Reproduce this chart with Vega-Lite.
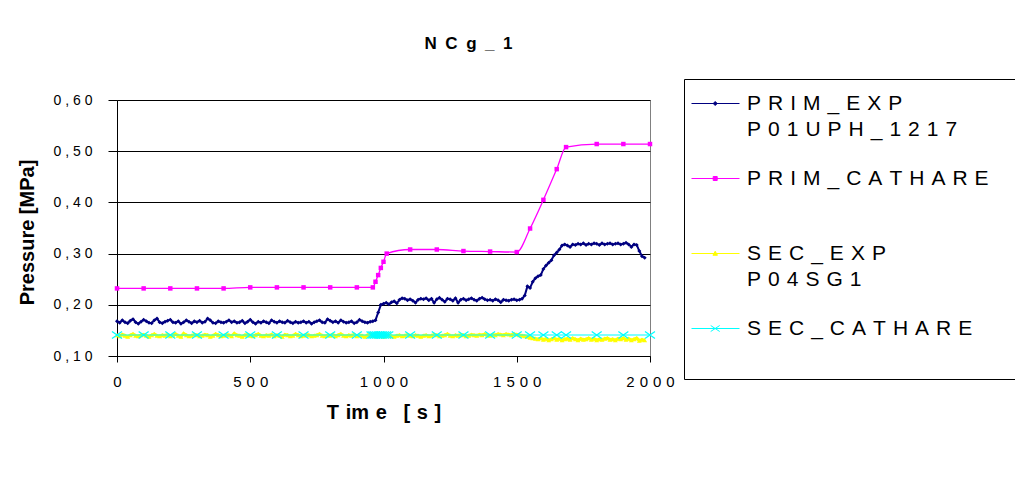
{
"$schema": "https://vega.github.io/schema/vega-lite/v6.json",
"width": 533, "height": 256,
"autosize": {"type": "none"},
"padding": {"left": 117, "top": 100, "right": 365, "bottom": 123},
"background": "white",
"title": {"text": "N\u2002C\u2002g\u2002_\u20021", "font": "Liberation Sans", "fontSize": 17, "fontWeight": "bold", "color": "black", "anchor": "middle", "dx": 85, "baseline": "alphabetic", "offset": 13},
"config": {"view": {"stroke": "#808080", "strokeWidth": 1}, "font": "Liberation Sans"},
"datasets": {
"exp": [
{"t":0,"PRIM_EXP":0.168,"SEC_EXP":0.141},{"t":10,"PRIM_EXP":0.165,"SEC_EXP":0.139},{"t":20,"PRIM_EXP":0.170,"SEC_EXP":0.142},{"t":30,"PRIM_EXP":0.166,"SEC_EXP":0.140},{"t":40,"PRIM_EXP":0.164,"SEC_EXP":0.138},{"t":50,"PRIM_EXP":0.169,"SEC_EXP":0.141},{"t":60,"PRIM_EXP":0.172,"SEC_EXP":0.143},{"t":70,"PRIM_EXP":0.166,"SEC_EXP":0.140},{"t":80,"PRIM_EXP":0.163,"SEC_EXP":0.139},{"t":90,"PRIM_EXP":0.167,"SEC_EXP":0.141},
{"t":100,"PRIM_EXP":0.171,"SEC_EXP":0.142},{"t":110,"PRIM_EXP":0.168,"SEC_EXP":0.140},{"t":120,"PRIM_EXP":0.165,"SEC_EXP":0.138},{"t":130,"PRIM_EXP":0.164,"SEC_EXP":0.141},{"t":140,"PRIM_EXP":0.170,"SEC_EXP":0.143},{"t":150,"PRIM_EXP":0.173,"SEC_EXP":0.140},{"t":160,"PRIM_EXP":0.166,"SEC_EXP":0.139},{"t":170,"PRIM_EXP":0.164,"SEC_EXP":0.141},{"t":180,"PRIM_EXP":0.167,"SEC_EXP":0.140},{"t":190,"PRIM_EXP":0.169,"SEC_EXP":0.142},
{"t":200,"PRIM_EXP":0.171,"SEC_EXP":0.139},{"t":210,"PRIM_EXP":0.166,"SEC_EXP":0.141},{"t":220,"PRIM_EXP":0.165,"SEC_EXP":0.143},{"t":230,"PRIM_EXP":0.168,"SEC_EXP":0.140},{"t":240,"PRIM_EXP":0.163,"SEC_EXP":0.138},{"t":250,"PRIM_EXP":0.166,"SEC_EXP":0.144},{"t":260,"PRIM_EXP":0.170,"SEC_EXP":0.141},{"t":270,"PRIM_EXP":0.167,"SEC_EXP":0.139},{"t":280,"PRIM_EXP":0.164,"SEC_EXP":0.140},{"t":290,"PRIM_EXP":0.168,"SEC_EXP":0.142},
{"t":300,"PRIM_EXP":0.166,"SEC_EXP":0.141},{"t":310,"PRIM_EXP":0.169,"SEC_EXP":0.139},{"t":320,"PRIM_EXP":0.165,"SEC_EXP":0.140},{"t":330,"PRIM_EXP":0.167,"SEC_EXP":0.142},{"t":340,"PRIM_EXP":0.173,"SEC_EXP":0.141},{"t":350,"PRIM_EXP":0.170,"SEC_EXP":0.138},{"t":360,"PRIM_EXP":0.165,"SEC_EXP":0.140},{"t":370,"PRIM_EXP":0.164,"SEC_EXP":0.143},{"t":380,"PRIM_EXP":0.168,"SEC_EXP":0.141},{"t":390,"PRIM_EXP":0.166,"SEC_EXP":0.139},
{"t":400,"PRIM_EXP":0.165,"SEC_EXP":0.140},{"t":410,"PRIM_EXP":0.167,"SEC_EXP":0.142},{"t":420,"PRIM_EXP":0.170,"SEC_EXP":0.141},{"t":430,"PRIM_EXP":0.166,"SEC_EXP":0.139},{"t":440,"PRIM_EXP":0.168,"SEC_EXP":0.144},{"t":450,"PRIM_EXP":0.165,"SEC_EXP":0.141},{"t":460,"PRIM_EXP":0.166,"SEC_EXP":0.140},{"t":470,"PRIM_EXP":0.169,"SEC_EXP":0.138},{"t":480,"PRIM_EXP":0.164,"SEC_EXP":0.141},{"t":490,"PRIM_EXP":0.167,"SEC_EXP":0.142},
{"t":500,"PRIM_EXP":0.171,"SEC_EXP":0.140},{"t":510,"PRIM_EXP":0.166,"SEC_EXP":0.139},{"t":520,"PRIM_EXP":0.163,"SEC_EXP":0.141},{"t":530,"PRIM_EXP":0.167,"SEC_EXP":0.143},{"t":540,"PRIM_EXP":0.165,"SEC_EXP":0.140},{"t":550,"PRIM_EXP":0.168,"SEC_EXP":0.139},{"t":560,"PRIM_EXP":0.166,"SEC_EXP":0.141},{"t":570,"PRIM_EXP":0.164,"SEC_EXP":0.140},{"t":580,"PRIM_EXP":0.170,"SEC_EXP":0.142},{"t":590,"PRIM_EXP":0.167,"SEC_EXP":0.139},
{"t":600,"PRIM_EXP":0.165,"SEC_EXP":0.141},{"t":610,"PRIM_EXP":0.168,"SEC_EXP":0.140},{"t":620,"PRIM_EXP":0.166,"SEC_EXP":0.138},{"t":630,"PRIM_EXP":0.165,"SEC_EXP":0.142},{"t":640,"PRIM_EXP":0.169,"SEC_EXP":0.141},{"t":650,"PRIM_EXP":0.166,"SEC_EXP":0.139},{"t":660,"PRIM_EXP":0.164,"SEC_EXP":0.140},{"t":670,"PRIM_EXP":0.167,"SEC_EXP":0.143},{"t":680,"PRIM_EXP":0.165,"SEC_EXP":0.141},{"t":690,"PRIM_EXP":0.166,"SEC_EXP":0.139},
{"t":700,"PRIM_EXP":0.168,"SEC_EXP":0.140},{"t":710,"PRIM_EXP":0.165,"SEC_EXP":0.142},{"t":720,"PRIM_EXP":0.167,"SEC_EXP":0.141},{"t":730,"PRIM_EXP":0.163,"SEC_EXP":0.139},{"t":740,"PRIM_EXP":0.166,"SEC_EXP":0.140},{"t":750,"PRIM_EXP":0.168,"SEC_EXP":0.141},{"t":760,"PRIM_EXP":0.170,"SEC_EXP":0.143},{"t":770,"PRIM_EXP":0.166,"SEC_EXP":0.140},{"t":780,"PRIM_EXP":0.165,"SEC_EXP":0.139},{"t":790,"PRIM_EXP":0.172,"SEC_EXP":0.141},
{"t":800,"PRIM_EXP":0.169,"SEC_EXP":0.140},{"t":810,"PRIM_EXP":0.166,"SEC_EXP":0.142},{"t":820,"PRIM_EXP":0.168,"SEC_EXP":0.139},{"t":830,"PRIM_EXP":0.165,"SEC_EXP":0.141},{"t":840,"PRIM_EXP":0.170,"SEC_EXP":0.143},{"t":850,"PRIM_EXP":0.167,"SEC_EXP":0.140},{"t":860,"PRIM_EXP":0.165,"SEC_EXP":0.139},{"t":870,"PRIM_EXP":0.166,"SEC_EXP":0.141},{"t":880,"PRIM_EXP":0.168,"SEC_EXP":0.140},{"t":890,"PRIM_EXP":0.164,"SEC_EXP":0.142},
{"t":900,"PRIM_EXP":0.166,"SEC_EXP":0.139},{"t":910,"PRIM_EXP":0.171,"SEC_EXP":0.141},{"t":920,"PRIM_EXP":0.168,"SEC_EXP":0.140},{"t":930,"PRIM_EXP":0.166,"SEC_EXP":0.138},{"t":940,"PRIM_EXP":0.165,"SEC_EXP":0.141},{"t":950,"PRIM_EXP":0.167,"SEC_EXP":0.142},{"t":960,"PRIM_EXP":0.168,"SEC_EXP":0.140},{"t":970,"PRIM_EXP":0.170,"SEC_EXP":0.139},{"t":980,"PRIM_EXP":0.185,"SEC_EXP":0.141},{"t":990,"PRIM_EXP":0.200,"SEC_EXP":0.140},
{"t":1000,"PRIM_EXP":0.202,"SEC_EXP":0.138},{"t":1010,"PRIM_EXP":0.204,"SEC_EXP":0.140},{"t":1020,"PRIM_EXP":0.201,"SEC_EXP":0.141},{"t":1030,"PRIM_EXP":0.205,"SEC_EXP":0.139},{"t":1040,"PRIM_EXP":0.207,"SEC_EXP":0.138},{"t":1050,"PRIM_EXP":0.203,"SEC_EXP":0.140},{"t":1060,"PRIM_EXP":0.210,"SEC_EXP":0.141},{"t":1070,"PRIM_EXP":0.213,"SEC_EXP":0.139},{"t":1080,"PRIM_EXP":0.212,"SEC_EXP":0.140},{"t":1090,"PRIM_EXP":0.209,"SEC_EXP":0.142},
{"t":1100,"PRIM_EXP":0.211,"SEC_EXP":0.140},{"t":1110,"PRIM_EXP":0.208,"SEC_EXP":0.139},{"t":1120,"PRIM_EXP":0.204,"SEC_EXP":0.141},{"t":1130,"PRIM_EXP":0.210,"SEC_EXP":0.140},{"t":1140,"PRIM_EXP":0.212,"SEC_EXP":0.138},{"t":1150,"PRIM_EXP":0.211,"SEC_EXP":0.140},{"t":1160,"PRIM_EXP":0.213,"SEC_EXP":0.141},{"t":1170,"PRIM_EXP":0.209,"SEC_EXP":0.139},{"t":1180,"PRIM_EXP":0.212,"SEC_EXP":0.140},{"t":1190,"PRIM_EXP":0.204,"SEC_EXP":0.142},
{"t":1200,"PRIM_EXP":0.211,"SEC_EXP":0.141},{"t":1210,"PRIM_EXP":0.214,"SEC_EXP":0.139},{"t":1220,"PRIM_EXP":0.210,"SEC_EXP":0.140},{"t":1230,"PRIM_EXP":0.206,"SEC_EXP":0.141},{"t":1240,"PRIM_EXP":0.212,"SEC_EXP":0.143},{"t":1250,"PRIM_EXP":0.211,"SEC_EXP":0.140},{"t":1260,"PRIM_EXP":0.208,"SEC_EXP":0.139},{"t":1270,"PRIM_EXP":0.213,"SEC_EXP":0.141},{"t":1280,"PRIM_EXP":0.204,"SEC_EXP":0.140},{"t":1290,"PRIM_EXP":0.210,"SEC_EXP":0.142},
{"t":1300,"PRIM_EXP":0.212,"SEC_EXP":0.141},{"t":1310,"PRIM_EXP":0.209,"SEC_EXP":0.139},{"t":1320,"PRIM_EXP":0.211,"SEC_EXP":0.140},{"t":1330,"PRIM_EXP":0.213,"SEC_EXP":0.142},{"t":1340,"PRIM_EXP":0.210,"SEC_EXP":0.141},{"t":1350,"PRIM_EXP":0.208,"SEC_EXP":0.140},{"t":1360,"PRIM_EXP":0.212,"SEC_EXP":0.142},{"t":1370,"PRIM_EXP":0.214,"SEC_EXP":0.141},{"t":1380,"PRIM_EXP":0.211,"SEC_EXP":0.143},{"t":1390,"PRIM_EXP":0.209,"SEC_EXP":0.141},
{"t":1400,"PRIM_EXP":0.210,"SEC_EXP":0.140},{"t":1410,"PRIM_EXP":0.208,"SEC_EXP":0.142},{"t":1420,"PRIM_EXP":0.211,"SEC_EXP":0.141},{"t":1430,"PRIM_EXP":0.209,"SEC_EXP":0.143},{"t":1440,"PRIM_EXP":0.205,"SEC_EXP":0.142},{"t":1450,"PRIM_EXP":0.210,"SEC_EXP":0.141},{"t":1460,"PRIM_EXP":0.209,"SEC_EXP":0.143},{"t":1470,"PRIM_EXP":0.208,"SEC_EXP":0.142},{"t":1480,"PRIM_EXP":0.210,"SEC_EXP":0.141},{"t":1490,"PRIM_EXP":0.211,"SEC_EXP":0.143},
{"t":1500,"PRIM_EXP":0.209,"SEC_EXP":0.142},{"t":1510,"PRIM_EXP":0.210,"SEC_EXP":0.141},{"t":1520,"PRIM_EXP":0.212,"SEC_EXP":0.140},{"t":1530,"PRIM_EXP":0.218,"SEC_EXP":0.139},{"t":1540,"PRIM_EXP":0.236,"SEC_EXP":0.138},{"t":1550,"PRIM_EXP":0.233,"SEC_EXP":0.136},{"t":1560,"PRIM_EXP":0.245,"SEC_EXP":0.135},{"t":1570,"PRIM_EXP":0.252,"SEC_EXP":0.134},{"t":1580,"PRIM_EXP":0.256,"SEC_EXP":0.133},{"t":1590,"PRIM_EXP":0.258,"SEC_EXP":0.135},
{"t":1600,"PRIM_EXP":0.270,"SEC_EXP":0.132},{"t":1610,"PRIM_EXP":0.277,"SEC_EXP":0.134},{"t":1620,"PRIM_EXP":0.282,"SEC_EXP":0.131},{"t":1630,"PRIM_EXP":0.287,"SEC_EXP":0.133},{"t":1640,"PRIM_EXP":0.297,"SEC_EXP":0.135},{"t":1650,"PRIM_EXP":0.302,"SEC_EXP":0.132},{"t":1660,"PRIM_EXP":0.308,"SEC_EXP":0.134},{"t":1670,"PRIM_EXP":0.316,"SEC_EXP":0.131},{"t":1680,"PRIM_EXP":0.318,"SEC_EXP":0.133},{"t":1690,"PRIM_EXP":0.316,"SEC_EXP":0.134},
{"t":1700,"PRIM_EXP":0.313,"SEC_EXP":0.132},{"t":1710,"PRIM_EXP":0.318,"SEC_EXP":0.135},{"t":1720,"PRIM_EXP":0.317,"SEC_EXP":0.133},{"t":1730,"PRIM_EXP":0.319,"SEC_EXP":0.131},{"t":1740,"PRIM_EXP":0.318,"SEC_EXP":0.134},{"t":1750,"PRIM_EXP":0.320,"SEC_EXP":0.132},{"t":1760,"PRIM_EXP":0.317,"SEC_EXP":0.133},{"t":1770,"PRIM_EXP":0.319,"SEC_EXP":0.135},{"t":1780,"PRIM_EXP":0.318,"SEC_EXP":0.132},{"t":1790,"PRIM_EXP":0.320,"SEC_EXP":0.134},
{"t":1800,"PRIM_EXP":0.319,"SEC_EXP":0.131},{"t":1810,"PRIM_EXP":0.317,"SEC_EXP":0.133},{"t":1820,"PRIM_EXP":0.320,"SEC_EXP":0.132},{"t":1830,"PRIM_EXP":0.318,"SEC_EXP":0.134},{"t":1840,"PRIM_EXP":0.319,"SEC_EXP":0.135},{"t":1850,"PRIM_EXP":0.320,"SEC_EXP":0.132},{"t":1860,"PRIM_EXP":0.318,"SEC_EXP":0.133},{"t":1870,"PRIM_EXP":0.319,"SEC_EXP":0.131},{"t":1880,"PRIM_EXP":0.320,"SEC_EXP":0.134},{"t":1890,"PRIM_EXP":0.318,"SEC_EXP":0.133},
{"t":1900,"PRIM_EXP":0.319,"SEC_EXP":0.135},{"t":1910,"PRIM_EXP":0.321,"SEC_EXP":0.132},{"t":1920,"PRIM_EXP":0.318,"SEC_EXP":0.134},{"t":1930,"PRIM_EXP":0.313,"SEC_EXP":0.131},{"t":1940,"PRIM_EXP":0.318,"SEC_EXP":0.133},{"t":1950,"PRIM_EXP":0.317,"SEC_EXP":0.135},{"t":1960,"PRIM_EXP":0.305,"SEC_EXP":0.130},{"t":1970,"PRIM_EXP":0.295,"SEC_EXP":0.132},{"t":1980,"PRIM_EXP":0.292,"SEC_EXP":0.131}
],
"cat": [
{"t":0,"series":"PRIM_CATHARE","v":0.232},{"t":100,"series":"PRIM_CATHARE","v":0.232},{"t":200,"series":"PRIM_CATHARE","v":0.232},{"t":300,"series":"PRIM_CATHARE","v":0.232},{"t":400,"series":"PRIM_CATHARE","v":0.232},{"t":500,"series":"PRIM_CATHARE","v":0.234},{"t":600,"series":"PRIM_CATHARE","v":0.234},{"t":700,"series":"PRIM_CATHARE","v":0.234},{"t":800,"series":"PRIM_CATHARE","v":0.234},{"t":900,"series":"PRIM_CATHARE","v":0.234},{"t":960,"series":"PRIM_CATHARE","v":0.234},{"t":970,"series":"PRIM_CATHARE","v":0.245},{"t":980,"series":"PRIM_CATHARE","v":0.258},{"t":990,"series":"PRIM_CATHARE","v":0.272},{"t":1000,"series":"PRIM_CATHARE","v":0.284},{"t":1012,"series":"PRIM_CATHARE","v":0.300},{"t":1100,"series":"PRIM_CATHARE","v":0.308},{"t":1200,"series":"PRIM_CATHARE","v":0.308},{"t":1300,"series":"PRIM_CATHARE","v":0.305},{"t":1400,"series":"PRIM_CATHARE","v":0.304},{"t":1500,"series":"PRIM_CATHARE","v":0.303},{"t":1550,"series":"PRIM_CATHARE","v":0.349},{"t":1600,"series":"PRIM_CATHARE","v":0.405},{"t":1650,"series":"PRIM_CATHARE","v":0.465},{"t":1685,"series":"PRIM_CATHARE","v":0.508},{"t":1800,"series":"PRIM_CATHARE","v":0.514},{"t":1900,"series":"PRIM_CATHARE","v":0.514},{"t":2000,"series":"PRIM_CATHARE","v":0.514},
{"t":0,"series":"SEC_CATHARE","v":0.141},{"t":100,"series":"SEC_CATHARE","v":0.141},{"t":200,"series":"SEC_CATHARE","v":0.141},{"t":300,"series":"SEC_CATHARE","v":0.141},{"t":400,"series":"SEC_CATHARE","v":0.141},{"t":500,"series":"SEC_CATHARE","v":0.141},{"t":600,"series":"SEC_CATHARE","v":0.141},{"t":700,"series":"SEC_CATHARE","v":0.141},{"t":800,"series":"SEC_CATHARE","v":0.141},{"t":900,"series":"SEC_CATHARE","v":0.141},{"t":955,"series":"SEC_CATHARE","v":0.141},{"t":962,"series":"SEC_CATHARE","v":0.141},{"t":968,"series":"SEC_CATHARE","v":0.141},{"t":975,"series":"SEC_CATHARE","v":0.141},{"t":982,"series":"SEC_CATHARE","v":0.141},{"t":989,"series":"SEC_CATHARE","v":0.141},{"t":995,"series":"SEC_CATHARE","v":0.141},{"t":1002,"series":"SEC_CATHARE","v":0.141},{"t":1010,"series":"SEC_CATHARE","v":0.141},{"t":1018,"series":"SEC_CATHARE","v":0.141},{"t":1100,"series":"SEC_CATHARE","v":0.141},{"t":1200,"series":"SEC_CATHARE","v":0.141},{"t":1300,"series":"SEC_CATHARE","v":0.141},{"t":1400,"series":"SEC_CATHARE","v":0.141},{"t":1500,"series":"SEC_CATHARE","v":0.141},{"t":1550,"series":"SEC_CATHARE","v":0.141},{"t":1600,"series":"SEC_CATHARE","v":0.141},{"t":1650,"series":"SEC_CATHARE","v":0.141},{"t":1685,"series":"SEC_CATHARE","v":0.141},{"t":1800,"series":"SEC_CATHARE","v":0.141},{"t":1900,"series":"SEC_CATHARE","v":0.141},{"t":2000,"series":"SEC_CATHARE","v":0.141}
]
},
"encoding": {
"x": {"field": "t", "type": "quantitative", "scale": {"domain": [0, 2000], "nice": false},
 "axis": {"title": "T\u2004im\u2004e\u2002\u2004[\u2004s\u2004]", "values": [0, 500, 1000, 1500, 2000], "grid": false,
  "labelExpr": "join(split(format(datum.value,'d'),''),'\u2004')", "labelFont": "Liberation Sans", "labelFontSize": 15, "labelColor": "black", "labelFlush": false, "labelOverlap": false,
  "tickColor": "black", "tickSize": 6, "labelPadding": 12, "domainColor": "black",
  "titleFont": "Liberation Sans", "titleFontSize": 20, "titleFontWeight": "bold", "titleColor": "black", "titlePadding": 13}},
"y": {"field": "v", "type": "quantitative", "scale": {"domain": [0.1, 0.6], "nice": false, "zero": false},
 "axis": {"title": "Pressure [MPa]", "values": [0.1, 0.2, 0.3, 0.4, 0.5, 0.6], "grid": true, "gridColor": "black", "gridWidth": 1, "gridOpacity": 1,
  "labelExpr": "replace(join(split(format(datum.value,'.2f'),''),' '),'.',',')", "labelFont": "Liberation Sans", "labelFontSize": 14, "labelColor": "black",
  "tickColor": "black", "tickSize": 9, "labelPadding": 16, "domainColor": "black",
  "titleFont": "Liberation Sans", "titleFontSize": 20, "titleFontWeight": "bold", "titleColor": "black", "titlePadding": 16, "titleY": 132}},
"color": {"field": "series", "type": "nominal",
 "scale": {"domain": ["PRIM_EXP", "PRIM_CATHARE", "SEC_EXP", "SEC_CATHARE"], "range": ["#000080", "#FF00FF", "#FFFF00", "#00FFFF"]},
 "legend": {"orient": "none", "legendX": 567, "legendY": -21, "title": null, "direction": "vertical",
  "strokeColor": "black", "fillColor": "white", "padding": 14,
  "labelFont": "Liberation Sans", "labelFontSize": 21, "labelColor": "black", "labelOffset": 28, "labelLimit": 600,
  "symbolSize": 100, "symbolStrokeWidth": 1, "rowPadding": 27,
  "labelExpr": "datum.value === 'PRIM_EXP' ? ['P\u2004R\u2004I\u2004M\u2004_\u2004E\u2004X\u2004P', 'P\u20040\u20041\u2004U\u2004P\u2004H\u2004_\u20041\u20042\u20041\u20047'] : datum.value === 'PRIM_CATHARE' ? ['P\u2004R\u2004I\u2004M\u2004_\u2004C\u2004A\u2004T\u2004H\u2004A\u2004R\u2004E\u2800', ' '] : datum.value === 'SEC_EXP' ? ['S\u2004E\u2004C\u2004_\u2004E\u2004X\u2004P', 'P\u20040\u20044\u2004S\u2004G\u20041'] : ['S\u2004E\u2004C\u2004_\u2004C\u2004A\u2004T\u2004H\u2004A\u2004R\u2004E', ' ']",
  "encode": {
   "symbols": {"update": {
    "shape": {"signal": "datum.value === 'PRIM_EXP' ? 'M-3.4,0L6.2,0M1.34,-0.4L1.74,0L1.34,0.4L0.94,0Z' : datum.value === 'PRIM_CATHARE' ? 'M-3.4,0L6.2,0M0.94,-0.4L1.74,-0.4L1.74,0.4L0.94,0.4Z' : datum.value === 'SEC_EXP' ? 'M-3.4,0L6.2,0M1.34,-0.45L1.79,0.35L0.89,0.35Z' : 'M-3.4,0L6.2,0M0.44,-0.6L2.24,0.6M0.44,0.6L2.24,-0.6'"},
    "fill": {"scale": "color", "field": "value"},
    "stroke": {"scale": "color", "field": "value"},
    "strokeWidth": {"value": 1},
    "opacity": {"value": 1}}},
   "labels": {"update": {"lineHeight": {"value": 26}}}}}}
},
"layer": [
{"data": {"name": "exp"}, "transform": [{"fold": ["PRIM_EXP"], "as": ["series", "v"]}],
 "mark": {"type": "line", "strokeWidth": 2}},
{"data": {"name": "exp"}, "transform": [{"fold": ["PRIM_EXP"], "as": ["series", "v"]}],
 "mark": {"type": "point", "shape": "diamond", "filled": true, "size": 16, "opacity": 1}},
{"data": {"name": "cat"}, "transform": [{"filter": "datum.series === 'PRIM_CATHARE'"}],
 "mark": {"type": "line", "strokeWidth": 1.3, "interpolate": "monotone"}},
{"data": {"name": "cat"}, "transform": [{"filter": "datum.series === 'PRIM_CATHARE'"}],
 "mark": {"type": "point", "shape": "square", "filled": true, "size": 20, "opacity": 1}},
{"data": {"name": "exp"}, "transform": [{"fold": ["SEC_EXP"], "as": ["series", "v"]}],
 "mark": {"type": "line", "strokeWidth": 3}},
{"data": {"name": "exp"}, "transform": [{"fold": ["SEC_EXP"], "as": ["series", "v"]}],
 "mark": {"type": "point", "shape": "triangle-up", "filled": true, "size": 24, "opacity": 1}},
{"data": {"name": "cat"}, "transform": [{"filter": "datum.series === 'SEC_CATHARE'"}],
 "mark": {"type": "line", "strokeWidth": 1.2}},
{"data": {"name": "cat"}, "transform": [{"filter": "datum.series === 'SEC_CATHARE'"}],
 "mark": {"type": "point", "shape": "M-1,-0.7L1,0.7M-1,0.7L1,-0.7", "filled": false, "size": 100, "strokeWidth": 1.3, "opacity": 1}}
]
}
